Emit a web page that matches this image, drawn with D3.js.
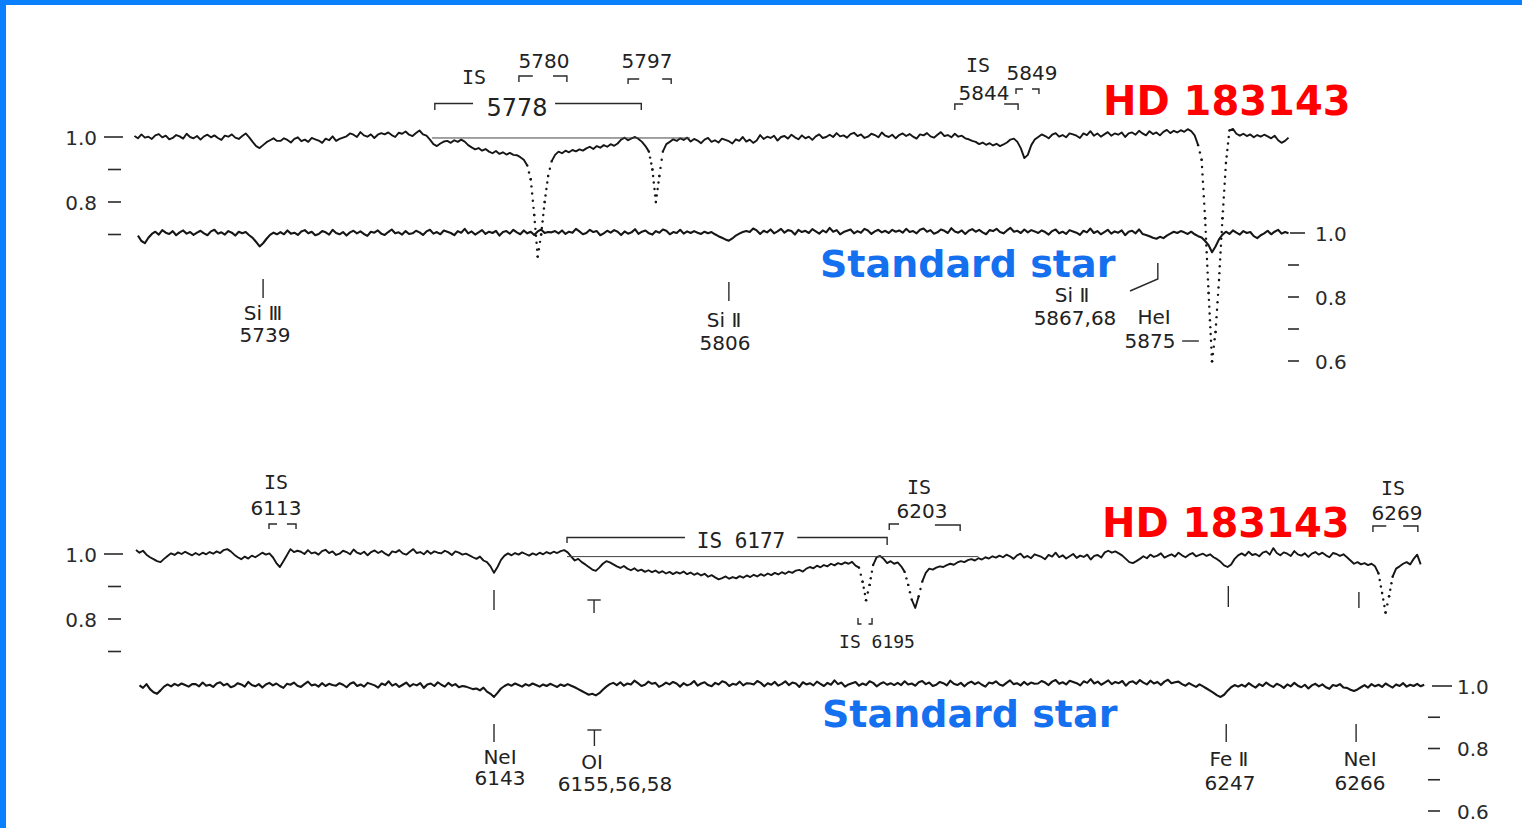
<!DOCTYPE html>
<html>
<head>
<meta charset="utf-8">
<script src="https://cdn.jsdelivr.net/npm/d3@7"></script>
<style>
  html, body { margin: 0; padding: 0; background: #fff; }
  svg { display: block; }
</style>
</head>
<body>
<svg id="chart" width="1522" height="828"></svg>
<script>
// ---------------------------------------------------------------
// Spectra: normalised flux sampled every 0.5 Å.
// Each row is [start wavelength (Å), flux values...].
// ---------------------------------------------------------------
const sampleStep = 0.5;

// HD 183143, 5720–5887 Å
const hdBlueRows = [
  [5720.5, [1.003,0.996,1.008,0.998,1.001,0.994,1.005,1.009,0.999,1.004,0.993,0.997,1.006,1.002,0.995,1.010,1.000,0.996,1.003,0.992,1.002,1.007,0.999,1.005,0.997,0.991,1.004,1.001,1.008,0.998,0.994,1.003,1.011,0.999]],
  [5737.5, [0.985,0.972,0.966,0.975,0.984,0.990,0.996,0.988]],
  [5741.5, [0.988,0.996,0.991,0.983,0.994,0.999,0.987,0.992,0.985,0.997,0.993,0.989,0.982,0.995,0.990,1.002,0.988,0.994]],
  [5750.5, [0.998,1.002,1.011,1.007,1.000,1.015,1.005,1.001,1.008,0.997,1.007,1.012,1.008,1.014,1.006,1.000,1.013,1.010,1.017,1.007,1.003,1.012,1.020,1.008]],
  [5762.5, [1.004,0.992,0.978,0.972,0.980,0.986,0.988,0.982,0.990,0.985,0.992,0.986,0.975,0.968,0.962,0.966,0.958,0.963,0.955,0.950,0.957,0.948,0.953,0.946,0.951,0.945,0.944,0.938,0.930,0.912]],
  [5777.5, [0.870,0.760,0.632,0.700,0.800,0.880,0.925,0.945]],
  [5781.5, [0.955,0.950,0.958,0.953,0.960,0.956,0.962,0.958,0.965,0.970,0.963,0.972,0.967,0.975,0.970,0.978,0.973,0.980,0.992,0.998,0.990,0.996,1.000,0.994]],
  [5793.5, [0.985,0.972,0.955,0.900,0.800,0.880,0.955,0.978,0.985,0.993,0.988,0.996,0.991,0.998]],
  [5800.5, [0.986,0.994,0.989,0.981,0.992,0.997,0.985,0.990,0.983,0.995,0.991,0.987,0.980,0.993,0.988,1.000,0.986,0.992,0.982,0.989,
            1.006,0.994,1.001,0.997,1.004,0.989,1.000,1.003,0.995,1.007,0.999,0.993,1.005,0.996,1.001,0.991,1.002,1.008,0.997,1.000,
            1.007,1.000,1.012,1.002,1.005,0.998,1.009,1.013,1.003,1.008,0.997,1.001,1.010,1.006,0.999,1.014,1.004,1.000,1.007,0.996]],
  [5830.5, [1.006,1.011,1.003,1.009,1.001,0.995,1.008,1.005,1.012,1.002,0.998,1.007,1.015,1.003,1.006,0.999,1.010,1.001,1.004,0.996,0.993,0.988]],
  [5841.5, [0.985,0.978,0.983,0.976,0.981,0.974,0.979,0.972,0.977,0.983,0.992,0.995]],
  [5847.5, [0.985,0.965,0.935,0.945,0.975,0.992]],
  [5850.5, [1.000,1.008,1.003,0.996,1.007,1.012,1.001,1.006,0.999,1.011,1.008,1.004,0.997,1.011,1.006,1.018,1.004,1.011,1.001,1.008,
            1.015,1.004,1.011,1.007,1.014,1.000,1.011,1.014,1.007,1.019,1.011,1.005,1.018,1.009,1.014,1.005,1.016,1.022]],
  [5869.5, [1.012,1.019,1.014,1.021,1.016,1.024,1.018,1.005,0.975,0.930,0.750,0.520,0.310,0.400,0.560,0.750,0.920,1.020,1.025,1.010]],
  [5879.5, [1.004,1.010,1.003,1.008,0.999,1.006,1.001,1.007,1.002,0.996,1.004,0.990,0.982,0.988,0.998]]
];

// Standard star, 5720–5887 Å
const stdBlueRows = [
  [5721.0, [0.992,0.975,0.968,0.985,0.997,1.004,0.995,1.009,1.001,0.997,1.006,0.993,1.002,1.008,0.998,1.003,0.994,1.001,1.007]],
  [5730.5, [0.999,0.993,1.005,1.010,0.998,1.002,0.995,1.006,1.001,0.992,1.004,0.999,1.003,0.993,0.985]],
  [5738.0, [0.972,0.958,0.968,0.982,0.994,1.001,0.996]],
  [5741.5, [1.003,0.996,1.008,0.998,1.001,0.994,1.005,1.009,0.999,1.004,0.993,0.997,1.006,1.002,0.995,1.010,1.000,0.996,1.003,0.992,
            1.002,1.007,0.999,1.005,0.997,0.991,1.004,1.001,1.008,0.998,0.994,1.003,1.011,0.999,1.002,0.995,1.006,0.997]],
  [5760.5, [0.999,1.007,1.002,0.994,1.005,1.010,0.998,1.003,0.996,1.008,1.004,1.000,0.993,1.006,1.001,1.013,0.999,1.005,0.995,1.002,
            1.009,0.997,1.004,1.000,1.007,0.992,1.003,1.006,0.998,1.010,1.002,0.996,1.008,0.999,1.004,0.994,1.005,1.011,1.000,1.003]],
  [5780.5, [1.002,1.006,0.999,1.008,0.997,1.004,1.001,1.013,1.005,0.996,1.000,1.010,1.003,1.006,0.993,0.999,1.007,1.001,1.009,1.004,
            0.994,1.005,0.998,1.002,1.012,0.997,1.004,1.008,0.999,0.995,1.006,1.001,1.011,1.007,0.996,1.003,1.000,1.010,0.998,1.005]],
  [5800.5, [1.000,1.006,1.001,0.997,1.004,0.999,1.003,0.996,0.990,0.985,0.980]],
  [5806.0, [0.976,0.983,0.992,0.998,1.003]],
  [5808.5, [1.006,1.003,1.014,1.008,0.997,1.007,1.002,1.011,0.999,1.005,1.013,1.001,1.009,1.006,0.995,1.010,1.003,1.007,1.000,1.012,
            1.005,0.998,1.008,1.002,1.016,1.004,1.009,0.996,1.003,1.007,1.011,0.999,1.006,1.001,1.013,1.008,0.997,1.005,1.010,1.002,
            1.007,1.000,1.010,1.004]],
  [5830.5, [1.008,1.001,1.013,1.003,1.006,0.999,1.010,1.014,1.004,1.009,0.998,1.002,1.011,1.007,1.000,1.015,1.005,1.001,1.008,0.997,
            1.007,1.012,1.004,1.010,1.002,0.996,1.009,1.006,1.013,1.003,0.999,1.008,1.016,1.004,1.007,1.000,1.011,1.002,1.009,1.005]],
  [5850.5, [1.000,1.008,1.003,0.995,1.006,1.011,0.999,1.004,0.997,1.009,1.005,1.001,0.994,1.007,1.002,1.014,1.000,1.006,0.996,1.003,
            1.010,0.998,1.005,1.001,1.008,0.993,1.004,1.007,0.999,1.011,0.997,0.994,0.990]],
  [5867.0, [0.985,0.982,0.988,0.984,0.992,0.998,1.004,1.000,1.006,1.002,0.997,1.004,0.996,0.990,0.986]],
  [5874.5, [0.975,0.962,0.940,0.958,0.980,0.995]],
  [5877.5, [1.004,0.997,1.008,1.001,0.995,1.006,1.000,1.003,0.990,0.984,0.993,0.999,1.007,0.996,1.004,1.010,0.998,1.003,0.999]]
];

// HD 183143, 6092–6276 Å
const hdRedRows = [
  [6092.0, [1.012,1.004,1.010,0.998,0.990,0.984,0.978,0.975,0.985,0.994,1.002,0.997,1.005,1.000,1.007,1.001,0.996]],
  [6100.5, [1.003,0.997,1.004,0.999,1.006,1.001,1.008,1.003,1.012,1.015,1.008,0.998,0.990,0.984,0.992,0.986,0.995,0.990,0.997,1.004,0.998,1.002]],
  [6111.5, [0.990,0.972,0.960,0.978,0.996,1.015,1.006,1.010]],
  [6115.5, [1.007,1.000,1.012,1.002,1.005,0.998,1.009,1.013,1.003,1.008,0.997,1.001,1.010,1.006,0.999,1.014,1.004,1.000,1.007,0.996,
            1.006,1.011,1.003,1.009,1.001,0.995,1.008,1.005,1.012,1.002,0.998,1.007,1.015,1.003,1.006,0.999,1.010,1.001,1.008,1.004,
            1.002,1.010,1.005,0.997,1.008,1.004,0.998,1.001,0.996,0.990]],
  [6140.5, [0.985,0.992,0.980,0.975,0.962,0.942,0.960,0.982,0.995,1.002]],
  [6145.5, [0.996,1.003,0.998,1.005,1.000,0.995,1.002,0.997,1.004,0.999,1.006,1.001,1.007,1.003,1.009,1.012,1.005,0.992]],
  [6154.5, [0.980,0.985,0.975,0.968,0.960,0.952,0.948,0.958,0.970,0.978,0.974,0.968]],
  [6160.5, [0.962,0.957,0.963,0.955,0.950,0.956,0.948,0.952,0.945,0.950,
            0.944,0.949,0.942,0.947,0.940,0.945,0.938,0.944,0.940,0.946,
            0.938,0.943,0.936,0.941,0.934,0.939,0.930,0.935,0.928,0.922,
            0.926,0.931,0.924,0.929,0.925,0.932,0.927,0.934,0.929,0.936,
            0.931,0.938,0.933,0.940,0.935,0.942,0.937,0.944,0.939,0.946,
            0.942,0.949,0.951,0.946,0.955,0.960,0.956,0.964,0.959,0.966,
            0.962,0.970,0.965,0.972,0.968,0.974,0.970,0.976,0.964,0.958]],
  [6195.5, [0.915,0.858,0.905,0.966,0.990,0.994]],
  [6198.5, [0.985,0.972,0.978,0.970,0.974,0.962,0.945]],
  [6202.0, [0.905,0.860,0.834,0.870,0.915,0.942,0.955]],
  [6205.5, [0.952,0.958,0.962,0.960,0.966,0.970,0.967,0.974,0.978,0.975,0.981,0.984,0.980,0.987,0.983,0.990,0.986,0.993,0.989,0.995]],
  [6215.5, [0.990,0.998,0.993,0.985,0.996,1.001,0.989,0.994,0.987,0.999,0.995,0.991,0.984,0.997,0.992,1.004,0.990,0.996,0.986,0.993,
            1.000,0.988,0.995,0.991,0.998,0.983,0.994,0.997,0.989,1.005,1.010,1.004,1.008,1.002,0.995,0.985,0.975]],
  [6234.0, [0.972,0.978,0.985,0.993,0.987,0.998,0.991,0.995,1.002,0.989,0.994,0.999,0.992,1.004,0.996,0.990,0.998,1.003,0.993,0.997,
            1.001,0.994,0.999,0.990,0.984,0.976]],
  [6247.0, [0.965,0.960,0.968,0.985,0.996]],
  [6249.5, [1.002,0.995,1.007,0.997,1.000,0.993,1.004,1.008,0.998,1.018,1.003,0.996,1.005,1.001,0.994,1.009,0.999,0.995,1.002,0.991,
            1.001,1.006,0.998,1.004,0.996,0.990,1.003,1.000,0.994,0.999,0.990,0.980]],
  [6265.5, [0.970,0.975,0.968,0.972,0.966,0.970,0.962]],
  [6269.0, [0.940,0.880,0.820,0.870,0.930,0.955,0.962,0.970,0.975,0.968,0.985,0.998,0.968]]
];

// Standard star, 6092–6276 Å
const stdRedRows = [
  [6092.5, [1.002,0.994,1.006,0.990,0.980,0.975,0.986,0.998,1.005,0.999,1.007,1.001,1.008,1.003,0.998,1.006]],
  [6100.5, [1.006,0.999,1.011,1.001,1.004,0.997,1.008,1.012,1.002,1.007,0.996,1.000,1.009,1.005,0.998,1.013,1.003,0.999,1.006,0.995,
            1.005,1.010,1.002,1.008,1.000,0.994,1.007,1.004,1.011,1.001,0.997,1.006,1.014,1.002,1.005,0.998,1.009,1.000,1.007,1.003,
            1.001,1.009,1.004,0.996,1.007,1.012,1.000,1.005,0.998,1.010,1.006,1.002,0.995,1.008,1.003,1.015,1.001,1.007,0.997,1.004,
            1.011,0.999,1.006,1.002,1.009,0.994,1.005,1.008,1.000,1.012,1.004,0.998,1.010,1.001,1.006,0.996,1.000,0.998,0.994,0.990]],
  [6140.5, [0.992,0.986,0.995,0.982,0.975,0.965,0.978,0.992,1.000,1.006]],
  [6145.5, [1.001,1.008,1.003,0.998,1.006,1.001,1.008,1.003,0.998,1.005,1.000,1.007,1.002,0.997,1.005,1.000,1.006,1.001,0.996,0.990,0.984]],
  [6156.0, [0.978,0.972,0.975,0.970,0.977,0.988,0.998]],
  [6159.5, [1.006,1.010,1.003,1.012,1.001,1.008,1.005,1.017,1.009,1.000,1.004,1.014,1.007,1.010,0.997,1.003,1.011,1.005,1.013,1.008,
            0.998,1.009,1.002,1.006,1.016,1.001,1.008,1.012,1.003,0.999,1.010,1.005,1.015,1.011,1.000,1.007,1.004,1.014,1.002,1.009,
            1.008,1.005,1.016,1.010,0.999,1.009,1.004,1.013,1.001,1.007,1.015,1.003,1.011,1.008,0.997,1.012,1.005,1.009,1.002,1.014,
            1.007,1.000,1.010,1.004,1.018,1.006,1.011,0.998,1.005,1.009,1.013,1.001,1.008,1.003,1.015,1.010,0.999,1.007,1.012,1.004,
            1.009,1.003]],
  [6200.5, [1.010,1.003,1.015,1.005,1.008,1.001,1.012,1.016,1.006,1.011,1.000,1.004,1.013,1.009,1.002,1.017,1.007,1.003,1.010,0.999,
            1.009,1.014,1.006,1.012,1.004,0.998,1.011,1.008,1.015,1.005,1.001,1.010,1.018,1.006,1.009,1.002,1.013,1.004,1.011,1.007,
            1.008,1.016,1.011,1.003,1.014,1.019,1.007,1.012,1.005,1.017,1.013,1.009,1.002,1.015,1.010,1.022,1.008,1.014,1.004,1.011,
            1.018,1.006,1.013,1.009,1.016,1.001,1.012,1.015,1.007,1.019,1.011,1.005,1.017,1.008,1.013,1.003,1.014,1.020,1.009,1.012,
            1.014,1.006,1.001,1.009,1.003,0.997,1.005,0.999]],
  [6244.5, [0.992,0.985,0.978,0.970,0.965,0.972,0.985,0.996,1.003,0.998]],
  [6249.5, [1.004,0.998,1.009,1.001,0.995,1.006,1.000,1.011,1.003,0.997,1.007,1.002,0.994,1.005,0.999,1.010,1.001,0.996,1.004,0.992,
            1.002,1.007,0.999,1.005,0.996,0.991,1.003,1.000,1.006,0.995,0.994,0.988,0.984,0.989,0.996,1.003,0.995,1.006,0.999,1.004,
            0.997,1.008,1.001,0.995,1.005,1.000,1.009,0.998,1.004,1.000,1.007,0.999,1.004]]
];

// Axis tick values (relative intensity)
const leftTicks = [1.0, 0.9, 0.8, 0.7];
const rightTicks = [1.0, 0.9, 0.8, 0.7, 0.6];
const labelledTicks = [1.0, 0.8, 0.6];

// Straight continuum drawn across the broad interstellar bands (Å, Å, flux)
const blueContinuum = [5763.3, 5800.4, 0.997];
const redContinuum = [6153.4, 6212.0, 0.992];

// Line identifications: simple vertical markers (Å, top px, bottom px)
const blueLowerIds = [[5739.0, 279, 298], [5806.0, 282, 301]];
const redUpperIds = [[6143.0, 590, 610], [6247.6, 586, 607], [6266.2, 592, 608]];
const redLowerIds = [[6143.0, 724, 742], [6247.3, 724, 742], [6265.8, 724, 742]];

// ---------------------------------------------------------------
const svg = d3.select('#chart');
const INK = '#161616';

// page frame (left and top edges)
svg.append('rect').attr('x', 0).attr('y', 0).attr('width', 1522).attr('height', 828).attr('fill', '#fff');
svg.append('rect').attr('x', 0).attr('y', 0).attr('width', 6).attr('height', 828).attr('fill', '#0a80ff');
svg.append('rect').attr('x', 0).attr('y', 0).attr('width', 1522).attr('height', 5).attr('fill', '#0a80ff');

// scales
const xBlue = d3.scaleLinear().domain([5720, 5887]).range([131, 1292]);
const xRed = d3.scaleLinear().domain([6143, 6266]).range([494, 1357.5]);
const yHdBlue = d3.scaleLinear().domain([0.7, 1.0]).range([234.5, 137]);
const yStdBlue = d3.scaleLinear().domain([0.6, 1.0]).range([361, 233]);
const yHdRed = d3.scaleLinear().domain([0.7, 1.0]).range([651.5, 554]);
const yStdRed = d3.scaleLinear().domain([0.6, 1.0]).range([811, 686]);

function expand(rows) {
  const pts = [];
  rows.forEach((r, i) => {
    const next = i < rows.length - 1 ? rows[i + 1][0] : Infinity;
    r[1].forEach((f, j) => {
      const w = r[0] + j * sampleStep;
      if (w < next - 1e-6) pts.push([w, f]);
    });
  });
  return pts;
}

// A spectrum is a continuous trace; where the flux falls steeply between
// neighbouring samples the recorder leaves separate dots instead.
function drawSpectrum(rows, x, y, width) {
  const g = svg.append('g');
  const P = expand(rows).map(p => [x(p[0]), y(p[1])]);
  const runs = [], dots = [];
  let run = [P[0]];
  for (let i = 1; i < P.length; i++) {
    const a = P[i - 1], b = P[i];
    const dy = Math.abs(b[1] - a[1]);
    if (dy > 12) {
      if (run.length > 1) runs.push(run);
      run = [b];
      const n = Math.max(2, Math.round(dy / 7));
      for (let k = 0; k <= n; k++) dots.push([a[0] + (b[0] - a[0]) * k / n, a[1] + (b[1] - a[1]) * k / n]);
    } else run.push(b);
  }
  if (run.length > 1) runs.push(run);
  g.selectAll(null).data(runs).join('path')
    .attr('d', d3.line()).attr('fill', 'none').attr('stroke', INK)
    .attr('stroke-width', width).attr('stroke-linejoin', 'round');
  g.selectAll(null).data(dots).join('circle')
    .attr('cx', d => d[0]).attr('cy', d => d[1]).attr('r', 1.2).attr('fill', INK);
}

drawSpectrum(hdBlueRows, xBlue, yHdBlue, 1.9);
drawSpectrum(stdBlueRows, xBlue, yStdBlue, 2.1);
drawSpectrum(hdRedRows, xRed, yHdRed, 1.9);
drawSpectrum(stdRedRows, xRed, yStdRed, 2.1);

// continuum guide lines
[[blueContinuum, xBlue, yHdBlue], [redContinuum, xRed, yHdRed]].forEach(([c, x, y]) => {
  svg.append('line').attr('x1', x(c[0])).attr('x2', x(c[1]))
    .attr('y1', y(c[2])).attr('y2', y(c[2]))
    .attr('stroke', '#444').attr('stroke-width', 1);
});

// intensity axes
const fmt = d3.format('.1f');
function intensityAxis(y, values, side, longTick, tick, labelX) {
  const g = svg.append('g');
  g.selectAll(null).data(values).join('line')
    .attr('x1', d => d === 1.0 ? longTick[0] : tick[0])
    .attr('x2', d => d === 1.0 ? longTick[1] : tick[1])
    .attr('y1', d => y(d)).attr('y2', d => y(d))
    .attr('stroke', '#2a2a2a').attr('stroke-width', 1.6);
  g.selectAll(null).data(values.filter(v => labelledTicks.includes(v))).join('text')
    .attr('x', labelX).attr('y', d => y(d) + 7.5)
    .attr('text-anchor', side === 'left' ? 'end' : 'start')
    .attr('font-family', '"DejaVu Sans", sans-serif').attr('font-size', 20)
    .attr('fill', '#2a2a2a').text(fmt);
}
intensityAxis(yHdBlue, leftTicks, 'left', [104, 123], [108, 121], 97);
intensityAxis(yStdBlue, rightTicks, 'right', [1290, 1305], [1288, 1299], 1315);
intensityAxis(yHdRed, leftTicks, 'left', [104, 123], [108, 121], 97);
intensityAxis(yStdRed, rightTicks, 'right', [1432, 1452], [1428, 1440], 1457);

// bracket and marker strokes, given as (wavelength, px) polylines
function strokes(x, list) {
  svg.append('g').selectAll(null).data(list).join('path')
    .attr('d', d => d3.line()(d.map(p => [x(p[0]), p[1]])))
    .attr('fill', 'none').attr('stroke', '#2a2a2a').attr('stroke-width', 1.4);
}
strokes(xBlue, [
  [[5775.8, 82], [5775.8, 76], [5777.8, 76]], [[5780.7, 76], [5782.7, 76], [5782.7, 82]],
  [[5791.5, 84], [5791.5, 79], [5793.1, 79]], [[5796.4, 79], [5797.7, 79], [5797.7, 84]],
  [[5763.7, 110], [5763.7, 103.5], [5769.2, 103.5]], [[5781.0, 103.5], [5793.4, 103.5], [5793.4, 110]],
  [[5838.5, 110], [5838.5, 104], [5839.7, 104]], [[5845.6, 104], [5847.6, 104], [5847.6, 110]],
  [[5847.3, 94], [5847.3, 89], [5848.3, 89]], [[5849.6, 89], [5850.6, 89], [5850.6, 94]],
  [[5867.7, 263], [5867.7, 279], [5863.7, 291]],
  [[5871.2, 341], [5873.6, 341]],
  ...blueLowerIds.map(d => [[d[0], d[1]], [d[0], d[2]]])
]);
strokes(xRed, [
  [[6110.95, 529], [6110.95, 524], [6112.1, 524]], [[6113.5, 524], [6114.8, 524], [6114.8, 529]],
  [[6153.4, 543], [6153.4, 537.5], [6170.2, 537.5]], [[6186.2, 537.5], [6199.0, 537.5], [6199.0, 545]],
  [[6194.85, 618], [6194.85, 624], [6195.35, 624]], [[6196.35, 624], [6196.85, 624], [6196.85, 618]],
  [[6199.3, 530], [6199.3, 524], [6200.7, 524]], [[6205.8, 525], [6209.4, 525], [6209.4, 531]],
  [[6268.2, 532], [6268.2, 526], [6270.1, 526]], [[6272.5, 526], [6274.6, 526], [6274.6, 532]],
  [[6156.3, 600], [6158.2, 600]], [[6157.25, 600], [6157.25, 613]],
  [[6156.3, 730], [6158.3, 730]], [[6157.3, 730], [6157.3, 746]],
  ...redUpperIds.map(d => [[d[0], d[1]], [d[0], d[2]]]),
  ...redLowerIds.map(d => [[d[0], d[1]], [d[0], d[2]]])
]);

// labels
const SANS = '"DejaVu Sans", sans-serif';
const MONO = '"DejaVu Sans Mono", monospace';
const labels = [
  { t: 'IS', x: 474, y: 84, f: MONO },
  { t: '5780', x: 544, y: 68 },
  { t: '5797', x: 647, y: 68 },
  { t: '5778', x: 517, y: 116, s: 24 },
  { t: 'IS', x: 978, y: 72, f: MONO },
  { t: '5849', x: 1032, y: 80 },
  { t: '5844', x: 984, y: 100 },
  { t: 'Si Ⅲ', x: 263, y: 320 },
  { t: '5739', x: 265, y: 342 },
  { t: 'Si Ⅱ', x: 724, y: 327 },
  { t: '5806', x: 725, y: 350 },
  { t: 'Si Ⅱ', x: 1072, y: 302 },
  { t: '5867,68', x: 1075, y: 325 },
  { t: 'HeⅠ', x: 1154, y: 324 },
  { t: '5875', x: 1150, y: 348 },
  { t: 'IS', x: 276, y: 489, f: MONO },
  { t: '6113', x: 276, y: 515 },
  { t: 'IS 6177', x: 741, y: 548, s: 21, f: MONO },
  { t: 'IS 6195', x: 877, y: 648, s: 18, f: MONO },
  { t: 'IS', x: 919, y: 494, f: MONO },
  { t: '6203', x: 922, y: 518 },
  { t: 'IS', x: 1393, y: 495, f: MONO },
  { t: '6269', x: 1397, y: 520 },
  { t: 'NeⅠ', x: 500, y: 764 },
  { t: '6143', x: 500, y: 785 },
  { t: 'OⅠ', x: 592, y: 769 },
  { t: '6155,56,58', x: 615, y: 791 },
  { t: 'Fe Ⅱ', x: 1229, y: 766 },
  { t: '6247', x: 1230, y: 790 },
  { t: 'NeⅠ', x: 1360, y: 766 },
  { t: '6266', x: 1360, y: 790 }
];
svg.append('g').selectAll(null).data(labels).join('text')
  .attr('x', d => d.x).attr('y', d => d.y).attr('text-anchor', 'middle')
  .attr('font-family', d => d.f || SANS).attr('font-size', d => d.s || 20)
  .attr('fill', '#222').text(d => d.t);

// star names
const names = [
  { t: 'HD 183143', x: 1103, y: 115, c: '#ff0000', s: 40 },
  { t: 'Standard star', x: 820, y: 277, c: '#1570f0', s: 38 },
  { t: 'HD 183143', x: 1102, y: 537, c: '#ff0000', s: 40 },
  { t: 'Standard star', x: 822, y: 727, c: '#1570f0', s: 38 }
];
svg.append('g').selectAll(null).data(names).join('text')
  .attr('x', d => d.x).attr('y', d => d.y)
  .attr('font-family', SANS).attr('font-weight', 'bold').attr('font-size', d => d.s)
  .attr('fill', d => d.c).text(d => d.t);
</script>
</body>
</html>
